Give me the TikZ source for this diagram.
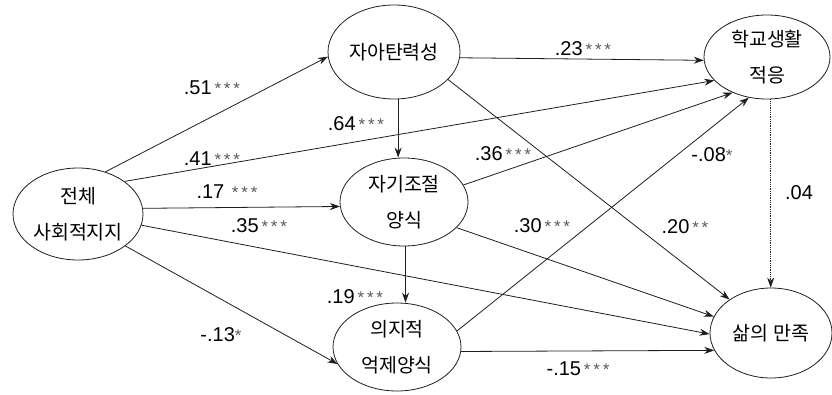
\documentclass[tikz,border=0pt]{standalone}
\usepackage{fontspec}
\setmainfont{Liberation Sans}
\newfontfamily\krfont{Noto Sans CJK KR}
\usetikzlibrary{arrows.meta,shapes.geometric}
\definecolor{lineGray}{RGB}{30,30,30}
\definecolor{starGray}{RGB}{90,90,90}
\newcommand{\coef}[2]{#1{\fontsize{17}{17}\selectfont\color{starGray}#2}}

\tikzset{
  var/.style={ellipse,draw=lineGray,line width=.8pt,inner sep=0pt,align=center,font=\krfont\fontsize{19.5}{36}\selectfont},
  effect/.style={-{Stealth[length=10pt,width=7pt]},draw=lineGray,line width=.8pt},
  weight/.style={font=\fontsize{20}{20}\selectfont,inner sep=0pt}
}

\begin{document}
\begin{tikzpicture}[x=1pt,y=-1pt]
\useasboundingbox (0,0) rectangle (832,394);
% variables
\node[var,minimum width=130pt,minimum height=92pt] (sup) at (78,214) {전체\\사회적지지};
\node[var,minimum width=132pt,minimum height=94pt] (ego) at (394,52) {자아탄력성};
\node[var,minimum width=126pt,minimum height=84pt] (school) at (767,57) {학교생활\\적응};
\node[var,minimum width=128pt,minimum height=88pt] (self) at (404,202) {자기조절\\양식};
\node[var,minimum width=128pt,minimum height=88pt] (vol) at (397,347) {의지적\\억제양식};
\node[var,minimum width=122pt,minimum height=90pt] (life) at (771,333) {삶의 만족};

% paths
\draw[effect] (sup.57) -- (ego.184);
\draw[effect] (sup.35) -- (school.204);
\draw[effect] (sup.5) -- (self.184);
\draw[effect] (sup.-10) -- (life.181);
\draw[effect] (sup.-34) -- (vol.196);
\draw[effect] (ego.-5) -- (school.183);
\draw[effect] (ego.-85) -- (ego.-85 |- self.north);
\draw[effect] (ego.-27) -- (life.141);
\draw[effect] (self.16) -- (school.226);
\draw[effect] (self.-26) -- (life.164);
\draw[effect] (self.-88) -- (self.-88 |- vol.north);
\draw[effect] (vol.15) -- (school.246);
\draw[effect] (vol.-4) -- (life.197);
\draw[effect,densely dotted] (school.-85) -- (school.-85 |- life.north);

% coefficients
\node[weight] (w51) at (212,88) {\coef{.51}{\,*\,*\,*}};
\node[weight] (w64) at (356,124) {\coef{.64}{\,*\,*\,*}};
\node[weight] (w41) at (212,159) {\coef{.41}{\,*\,*\,*}};
\node[weight] (w17) at (227,192) {\coef{.17}{\ \,*\,*\,*}};
\node[weight] (w35) at (259,226) {\coef{.35}{\,*\,*\,*}};
\node[weight] (w13) at (221,335) {\coef{-.13}{*}};
\node[weight] (w23) at (583,49) {\coef{.23}{\,*\,*\,*}};
\node[weight] (w36) at (503,154) {\coef{.36}{\,*\,*\,*}};
\node[weight] (w08) at (712,155) {\coef{-.08}{*}};
\node[weight] (w04) at (799,193) {.04};
\node[weight] (w30) at (542,226) {\coef{.30}{\,*\,*\,*}};
\node[weight] (w20) at (685,227) {\coef{.20}{\,*\,*}};
\node[weight] (w19) at (355,297) {\coef{.19}{\,*\,*\,*}};
\node[weight] (w15) at (578,369) {\coef{-.15}{\,*\,*\,*}};
\end{tikzpicture}
\end{document}
